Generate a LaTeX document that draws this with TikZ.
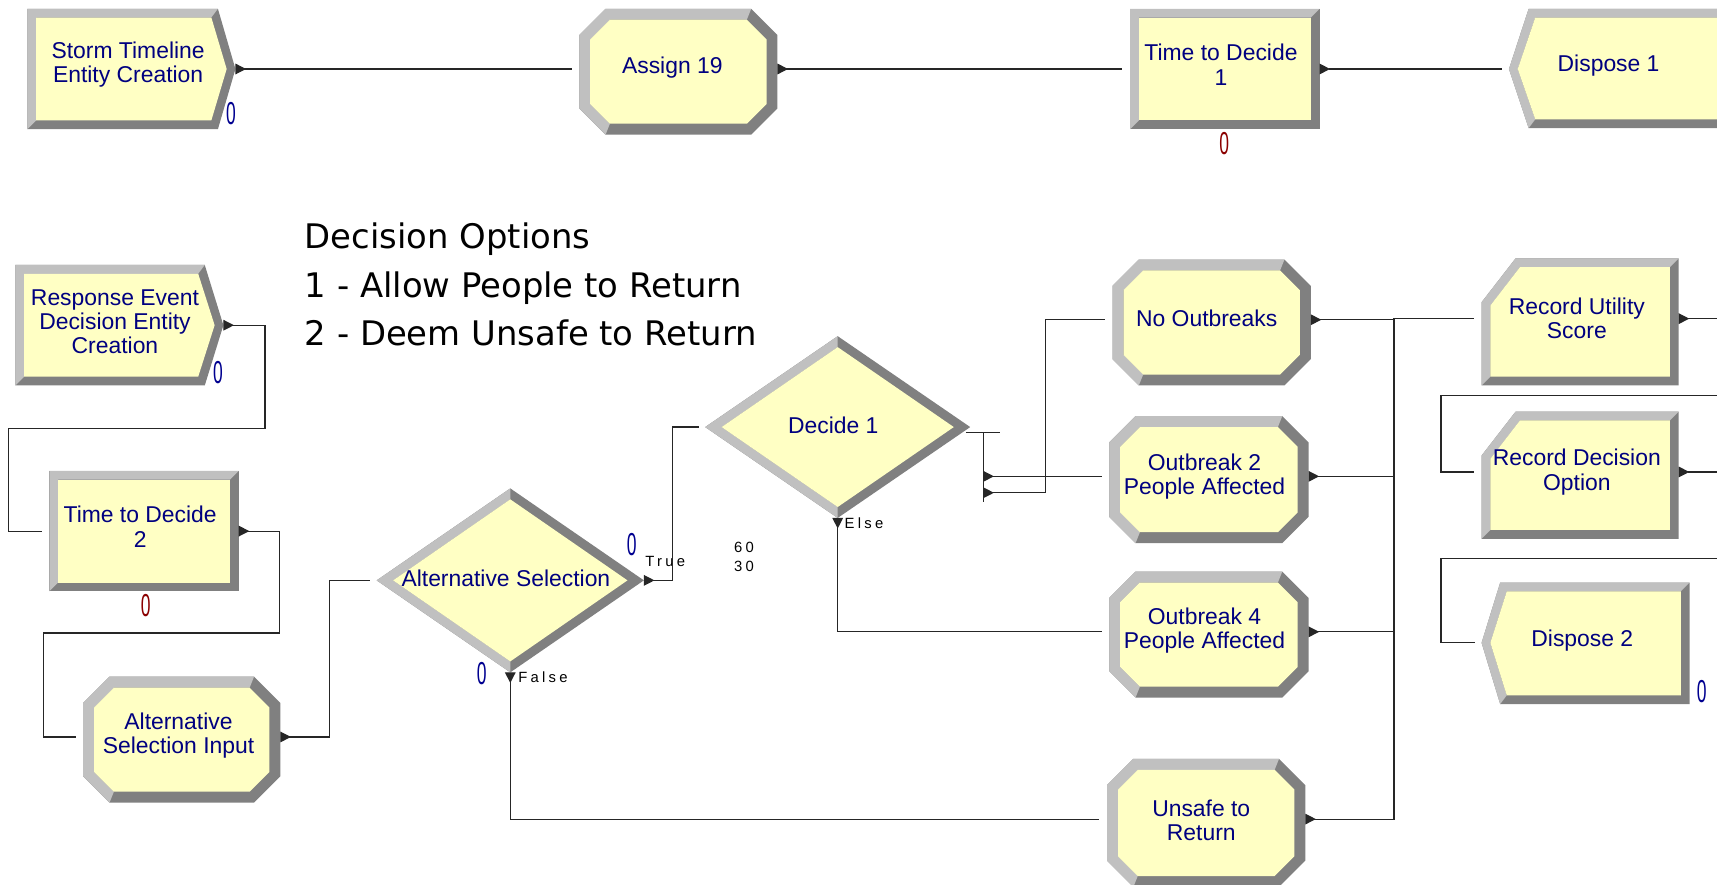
\documentclass[tikz,border=0pt]{standalone}
\usepackage{fontspec}
\usepackage{tikz}
\usetikzlibrary{arrows.meta}

\newfontfamily\modfont{Liberation Sans}
\newfontfamily\notefont{DejaVu Sans}
\newfontfamily\tagfont[LetterSpace=22]{Liberation Sans}

\definecolor{bevlite}{HTML}{C0C0C0}
\definecolor{bevdark}{HTML}{808080}
\definecolor{modface}{HTML}{FFFFC4}
\definecolor{modtext}{HTML}{000080}
\definecolor{cntblue}{HTML}{000090}
\definecolor{cntred}{HTML}{8B0000}

% module shapes: name, then the box in picture pixels (y runs down)
\newcommand{\procbox}[5]{%
  \fill[darkbev] (#2,#3) rectangle (#4,#5);
  \fill[litebev] (#2,#5) -- (#2,#3) -- (#4,#3) -- ({#4-8},{#3+8}) -- ({#2+8},{#3+8}) -- ({#2+8},{#5-8}) -- cycle;
  \fill[yellowface] ({#2+8},{#3+8}) rectangle ({#4-8},{#5-8});
  \coordinate (#1-in) at ({#2-7},{#3+55});
  \coordinate (#1-out) at (#4,{#3+55});
}
\newcommand{\assignbox}[5]{%
  \fill[darkbev] ({#2+24},#3) -- ({#4-24},#3) -- (#4,{#3+24}) -- (#4,{#5-24}) -- ({#4-24},#5) -- ({#2+24},#5) -- (#2,{#5-24}) -- (#2,{#3+24}) -- cycle;
  \fill[litebev] ({#2+24},#5) -- (#2,{#5-24}) -- (#2,{#3+24}) -- ({#2+24},#3) -- ({#4-24},#3) -- ({#4-28},{#3+10}) -- ({#2+28},{#3+10}) -- ({#2+10},{#3+28}) -- ({#2+10},{#5-28}) -- ({#2+28},{#5-10}) -- cycle;
  \fill[yellowface] ({#2+28},{#3+10}) -- ({#4-28},{#3+10}) -- ({#4-10},{#3+28}) -- ({#4-10},{#5-28}) -- ({#4-28},{#5-10}) -- ({#2+28},{#5-10}) -- ({#2+10},{#5-28}) -- ({#2+10},{#3+28}) -- cycle;
  \coordinate (#1-in) at ({#2-7},{#3+55});
  \coordinate (#1-out) at (#4,{#3+55});
}
\newcommand{\recordbox}[5]{%
  \fill[darkbev] (#2,{#3+40}) -- ({#2+31},#3) -- (#4,#3) -- (#4,#5) -- (#2,#5) -- cycle;
  \fill[litebev] (#2,#5) -- (#2,{#3+40}) -- ({#2+31},#3) -- (#4,#3) -- ({#4-8},{#3+8}) -- ({#2+35},{#3+8}) -- ({#2+8},{#3+43}) -- ({#2+8},{#5-8}) -- cycle;
  \fill[yellowface] ({#2+8},{#3+43}) -- ({#2+35},{#3+8}) -- ({#4-8},{#3+8}) -- ({#4-8},{#5-8}) -- ({#2+8},{#5-8}) -- cycle;
  \coordinate (#1-in) at ({#2-7},{#3+55});
  \coordinate (#1-out) at (#4,{#3+55});
}
\newcommand{\createbox}[6]{% name, left, top, right, tip, bottom
  \fill[darkbev] (#2,#3) -- (#4,#3) -- (#5,{#3+55}) -- (#4,#6) -- (#2,#6) -- cycle;
  \fill[litebev] (#2,#6) -- (#2,#3) -- (#4,#3) -- ({#4-6},{#3+8}) -- ({#2+8},{#3+8}) -- ({#2+8},{#6-8}) -- cycle;
  \fill[yellowface] ({#2+8},{#3+8}) -- ({#4-6},{#3+8}) -- ({#5-8},{#3+55}) -- ({#4-6},{#6-8}) -- ({#2+8},{#6-8}) -- cycle;
  \coordinate (#1-out) at (#5,{#3+55});
}
\newcommand{\disposebox}[6]{% name, tip, left, top, right, bottom
  \fill[darkbev] (#2,{#4+55}) -- (#3,#4) -- (#5,#4) -- (#5,#6) -- (#3,#6) -- cycle;
  \fill[litebev] (#3,#6) -- (#2,{#4+55}) -- (#3,#4) -- (#5,#4) -- ({#5-8},{#4+8}) -- ({#3+6},{#4+8}) -- ({#2+8},{#4+55}) -- ({#3+6},{#6-8}) -- cycle;
  \fill[yellowface] ({#3+6},{#4+8}) -- ({#5-8},{#4+8}) -- ({#5-8},{#6-8}) -- ({#3+6},{#6-8}) -- ({#2+8},{#4+55}) -- cycle;
  \coordinate (#1-in) at ({#2-6},{#4+55});
}
\newcommand{\decidebox}[5]{% name, cx, cy, half width, half height
  \fill[darkbev] ({#2-#4},#3) -- (#2,{#3-#5}) -- ({#2+#4},#3) -- (#2,{#3+#5}) -- cycle;
  \fill[litebev] (#2,{#3-#5}) -- ({#2-#4},#3) -- (#2,{#3+#5}) -- (#2,{#3+#5-10}) -- ({#2-#4+15},#3) -- (#2,{#3-#5+10}) -- cycle;
  \fill[yellowface] ({#2-#4+15},#3) -- (#2,{#3-#5+10}) -- ({#2+#4-15},#3) -- (#2,{#3+#5-10}) -- cycle;
  \coordinate (#1-in) at ({#2-#4-6},#3);
  \coordinate (#1-out) at ({#2+#4},#3);
  \coordinate (#1-down) at (#2,{#3+#5});
}
\newcommand{\zero}{\scalebox{0.55}[1]{0}}

\begin{document}
\begin{tikzpicture}[
  x=0.02cm, y=-0.02cm,
  litebev/.style={fill=bevlite},
  darkbev/.style={fill=bevdark},
  yellowface/.style={fill=modface},
  modlabel/.style={font=\modfont\fontsize{11.9}{12.6}\selectfont, text=modtext, align=center, inner sep=0pt},
  cnt/.style={font=\modfont\fontsize{16.5}{16.5}\selectfont, inner sep=0pt},
  tag/.style={font=\tagfont\fontsize{7.7}{9}\selectfont, inner sep=0pt, anchor=west},
  note/.style={font=\notefont\fontsize{17.6}{25.2}\selectfont, align=left, inner sep=0pt, anchor=west},
  link/.style={draw=black!85, line width=0.6pt},
  outtip/.style={{Triangle[reversed,length=5.5pt,width=5.5pt]}-},
]
  \useasboundingbox (0,0) rectangle (1568,808);
  \clip (0,0) rectangle (1568,808);
  \fill[white] (0,0) rectangle (1568,808);

  % top row
  \createbox{storm}{25}{8}{199}{215}{118}
  \node[modlabel] (storm) at (117,59) {Storm Timeline\\Entity Creation};
  \node[cnt, text=cntblue] (storm-n) at (211,104) {\zero};
  \assignbox{asg19}{529}{8}{710}{123}
  \node[modlabel] (asg19) at (614,62) {Assign 19};
  \procbox{ttd1}{1032}{8}{1205}{118}
  \node[modlabel] (ttd1) at (1115,59) {Time to Decide\\1};
  \node[cnt, text=cntred] (ttd1-n) at (1118,131) {\zero};
  \disposebox{disp1}{1378}{1396}{8}{1590}{117}
  \node[modlabel] (disp1) at (1469,60) {Dispose 1};

  \draw[link, outtip] (storm-out) -- (asg19-in);
  \draw[link, outtip] (asg19-out) -- (ttd1-in);
  \draw[link, outtip] (ttd1-out) -- (disp1-in);

  % decision options
  \node[note] (opts) at (278,260) {Decision Options\\1 - Allow People to Return\\2 - Deem Unsafe to Return};

  % left column
  \createbox{resp}{14}{242}{187}{204}{352}
  \node[modlabel] (resp) at (105,294) {Response Event\\Decision Entity\\Creation};
  \node[cnt, text=cntblue] (resp-n) at (199,340) {\zero};
  \procbox{ttd2}{45}{430}{218}{540}
  \node[modlabel] (ttd2) at (128,481) {Time to Decide\\2};
  \node[cnt, text=cntred] (ttd2-n) at (133,553) {\zero};
  \assignbox{asi}{76}{618}{256}{733}
  \node[modlabel] (asi) at (163,672) {Alternative\\Selection Input};

  \draw[link, outtip] (resp-out) -- ++(38,0) -- ++(0,94) -- ++(-234,0) |- (ttd2-in);
  \draw[link, outtip] (ttd2-out) -- ++(37,0) -- ++(0,93) -- ++(-215,0) |- (asi-in);

  % decides
  \decidebox{alt}{466}{530}{122}{84}
  \node[modlabel] (alt) at (462,528) {Alternative Selection};
  \node[cnt, text=cntblue] (alt-n1) at (577,497) {\zero};
  \node[cnt, text=cntblue] (alt-n2) at (440,615) {\zero};
  \node[tag] (alt-true) at (589,513) {True};
  \node[tag] (alt-false) at (473,618) {False};
  \decidebox{dec1}{765}{390}{121}{83}
  \node[modlabel] (dec1) at (761,388) {Decide 1};
  \node[tag] (dec1-else) at (771,478) {Else};
  \node[tag] (pct-a) at (670,500) {60};
  \node[tag] (pct-b) at (670,517) {30};

  \draw[link, outtip] (asi-out) -- ++(45,0) |- (alt-in);
  \draw[link, outtip] (alt-out) -- ++(26,0) |- (dec1-in);

  % outcome assigns
  \assignbox{noob}{1016}{237}{1197}{352}
  \node[modlabel] (noob) at (1102,291) {No Outbreaks};
  \assignbox{ob2}{1013}{380}{1195}{496}
  \node[modlabel] (ob2) at (1100,435) {Outbreak 2\\People Affected};
  \assignbox{ob4}{1013}{522}{1195}{637}
  \node[modlabel] (ob4) at (1100,576) {Outbreak 4\\People Affected};
  \assignbox{unsafe}{1011}{693}{1192}{810}
  \node[modlabel] (unsafe) at (1097,749) {Unsafe to\\Return};

  \coordinate (bar) at (898,395);
  \coordinate (bar-a) at (898,435);
  \coordinate (bar-b) at (898,450);
  \draw[link] (bar) ++(-16,0) -- ++(31,0);
  \draw[link] (bar) -- ++(0,63);
  \draw[link, outtip] (bar-a) -- (ob2-in);
  \draw[link, outtip] (bar-b) -- ++(57,0) |- (noob-in);
  \draw[link, outtip] (dec1-down) |- (ob4-in);
  \draw[link, outtip] (alt-down) |- (unsafe-in);

  % records and dispose
  \recordbox{rus}{1353}{236}{1533}{352}
  \node[modlabel] (rus) at (1440,291) {Record Utility\\Score};
  \recordbox{rdo}{1353}{376}{1533}{492}
  \node[modlabel] (rdo) at (1440,431) {Record Decision\\Option};
  \disposebox{disp2}{1353}{1370}{532}{1543}{643}
  \node[modlabel] (disp2) at (1445,585) {Dispose 2};
  \node[cnt, text=cntblue] (disp2-n) at (1554,632) {\zero};

  \draw[link, outtip] (noob-out) -- ++(76,0) |- (rus-in);
  \draw[link, outtip] (ob2-out) -- ++(78,0) |- (rus-in);
  \draw[link, outtip] (ob4-out) -- ++(78,0) |- (rus-in);
  \draw[link, outtip] (unsafe-out) -- ++(81,0) |- (rus-in);
  \draw[link, outtip] (rus-out) -- ++(60,0) -- ++(0,70) -- ++(-277,0) |- (rdo-in);
  \draw[link, outtip] (rdo-out) -- ++(60,0) -- ++(0,79) -- ++(-277,0) |- (disp2-in);
\end{tikzpicture}
\end{document}
